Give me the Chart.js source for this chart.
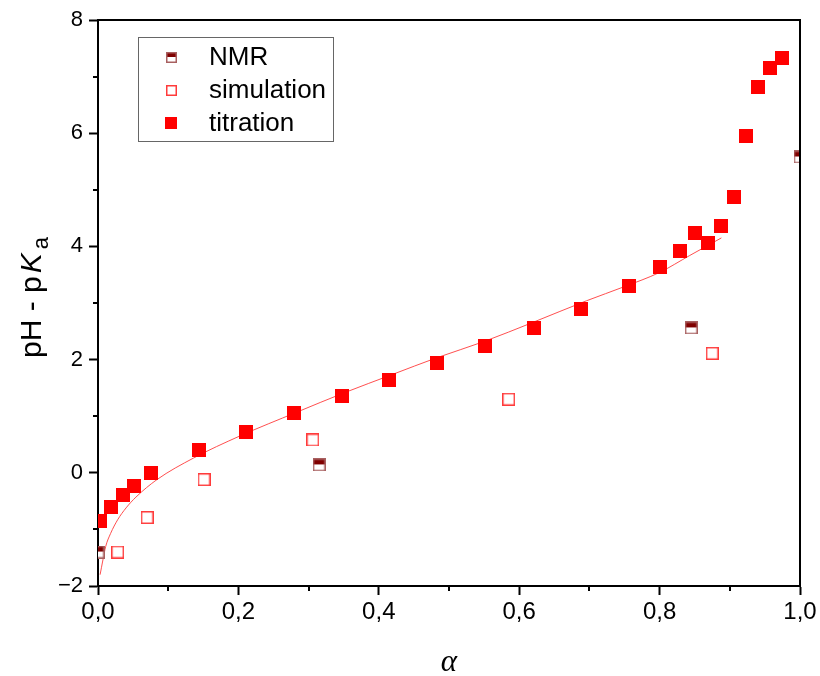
<!DOCTYPE html>
<html>
<head>
<meta charset="utf-8">
<script src="https://cdn.jsdelivr.net/npm/chart.js@4.4.1/dist/chart.umd.min.js"></script>
<style>
  html, body { margin: 0; padding: 0; background: #fff; }
  canvas { display: block; }
</style>
</head>
<body>
<canvas id="chart" width="820" height="676"></canvas>
<script>
// titration (filled squares)
const titrationAlpha = [0.003, 0.0185, 0.035, 0.051, 0.075, 0.144, 0.211, 0.279, 0.348, 0.415, 0.483, 0.551, 0.621, 0.688, 0.756, 0.80, 0.829, 0.85, 0.869, 0.887, 0.906, 0.923, 0.940, 0.957, 0.974];
const titrationY = [-0.85, -0.60, -0.39, -0.23, 0.0, 0.40, 0.72, 1.06, 1.36, 1.64, 1.94, 2.24, 2.56, 2.90, 3.30, 3.64, 3.92, 4.24, 4.06, 4.36, 4.88, 5.95, 6.82, 7.16, 7.33];

// simulation (open squares)
const simAlpha = [0.028, 0.070, 0.151, 0.306, 0.585, 0.875];
const simY = [-1.40, -0.79, -0.12, 0.58, 1.30, 2.11];

// NMR (half filled squares)
const nmrAlpha = [0.0, 0.315, 0.845, 1.0];
const nmrY = [-1.40, 0.14, 2.56, 5.58];

// fitted curve
const fitAlpha = [0.003, 0.007, 0.011, 0.018, 0.028, 0.040, 0.054, 0.084, 0.136, 0.202, 0.283, 0.35, 0.42, 0.482, 0.55, 0.62, 0.696, 0.75, 0.80, 0.843, 0.888];
const fitY = [-1.80, -1.54, -1.30, -1.07, -0.83, -0.62, -0.43, -0.12, 0.26, 0.65, 1.07, 1.41, 1.74, 2.03, 2.32, 2.66, 3.04, 3.29, 3.54, 3.84, 4.15];

const legendLabels = ['NMR', 'simulation', 'titration'];

function toPoints(xs, ys) {
    return xs.map((x, i) => ({ x: x, y: ys[i] }));
}

// marker images
function makeMarker(kind, size) {
    const c = document.createElement('canvas');
    c.width = size; c.height = size;
    const g = c.getContext('2d');
    if (kind === 'filled') {
        g.fillStyle = '#ff0000';
        g.fillRect(0, 0, size, size);
    } else if (kind === 'open') {
        g.fillStyle = '#ffffff';
        g.fillRect(0, 0, size, size);
        g.strokeStyle = '#ff3b3b';
        g.lineWidth = 1.5;
        g.strokeRect(0.75, 0.75, size - 1.5, size - 1.5);
    } else {
        g.fillStyle = '#ffffff';
        g.fillRect(0, 0, size, size);
        g.fillStyle = '#800000';
        g.fillRect(0, 0, size, Math.round(size * 0.45));
        g.strokeStyle = '#a86060';
        g.lineWidth = 1.5;
        g.strokeRect(0.75, 0.75, size - 1.5, size - 1.5);
    }
    return c;
}

const nmrMarker = makeMarker('nmr', 13);
const simMarker = makeMarker('open', 13);
const titMarker = makeMarker('filled', 14);
const legendMarkers = [makeMarker('nmr', 11), makeMarker('open', 11), makeMarker('filled', 12)];

const extras = {
    id: 'extras',
    afterDraw(chart) {
        const ctx = chart.ctx;
        const a = chart.chartArea;
        ctx.save();

        // frame top and right
        ctx.strokeStyle = '#000';
        ctx.lineWidth = 2;
        ctx.beginPath();
        ctx.moveTo(a.left, a.top);
        ctx.lineTo(a.right, a.top);
        ctx.lineTo(a.right, a.bottom);
        ctx.stroke();

        // minor ticks
        const xs = chart.scales.x, ys = chart.scales.y;
        ctx.lineWidth = 2;
        ctx.beginPath();
        xs.ticks.forEach(t => {
            if (Math.round(t.value * 10) % 2 !== 0) {
                const px = Math.round(xs.getPixelForValue(t.value));
                ctx.moveTo(px, a.bottom);
                ctx.lineTo(px, a.bottom + 5);
            }
        });
        ys.ticks.forEach(t => {
            if (Math.round(t.value) % 2 !== 0) {
                const py = Math.round(ys.getPixelForValue(t.value));
                ctx.moveTo(a.left, py);
                ctx.lineTo(a.left - 5, py);
            }
        });
        ctx.stroke();

        // legend
        ctx.strokeStyle = '#666';
        ctx.lineWidth = 1;
        ctx.strokeRect(138.5, 37.5, 195, 104);
        ctx.fillStyle = '#000';
        ctx.font = '26px "Liberation Sans", Arial, sans-serif';
        ctx.textBaseline = 'middle';
        const rows = [57, 90, 123];
        legendLabels.forEach((lab, i) => {
            const m = legendMarkers[i];
            ctx.drawImage(m, Math.round(171 - m.width / 2), Math.round(rows[i] - m.height / 2));
            ctx.fillText(lab, 209, rows[i] + 1);
        });

        // y title: pH - pKa
        ctx.translate(41, 358);
        ctx.rotate(-Math.PI / 2);
        ctx.textBaseline = 'alphabetic';
        ctx.font = '30px "Liberation Sans", Arial, sans-serif';
        let x = 0;
        ctx.fillText('pH - p', x, 0);
        x += ctx.measureText('pH - p').width + 3;
        ctx.font = 'italic 30px "Liberation Sans", Arial, sans-serif';
        ctx.fillText('K', x, 0);
        x += ctx.measureText('K').width + 4;
        ctx.font = '22px "Liberation Sans", Arial, sans-serif';
        ctx.fillText('a', x, 7);
        ctx.restore();

        // x title: alpha
        ctx.save();
        ctx.fillStyle = '#000';
        ctx.font = 'italic 31px "Liberation Serif", "Times New Roman", serif';
        ctx.textAlign = 'center';
        ctx.textBaseline = 'alphabetic';
        ctx.fillText('\u03b1', 449, 671);
        ctx.restore();
    }
};

new Chart(document.getElementById('chart'), {
    type: 'scatter',
    data: {
        datasets: [
            {
                label: 'NMR',
                data: toPoints(nmrAlpha, nmrY),
                pointStyle: nmrMarker,
                pointRadius: 7
            },
            {
                label: 'simulation',
                data: toPoints(simAlpha, simY),
                pointStyle: simMarker,
                pointRadius: 7
            },
            {
                label: 'titration',
                data: toPoints(titrationAlpha, titrationY),
                pointStyle: titMarker,
                pointRadius: 7
            },
            {
                label: 'fit',
                type: 'line',
                data: toPoints(fitAlpha, fitY),
                borderColor: 'rgba(255, 60, 60, 0.9)',
                borderWidth: 1,
                pointRadius: 0,
                fill: false,
                cubicInterpolationMode: 'monotone'
            }
        ]
    },
    options: {
        responsive: false,
        animation: false,
        layout: { padding: { top: 20, right: 20, left: 0, bottom: 0 } },
        plugins: {
            legend: { display: false },
            tooltip: { enabled: false }
        },
        scales: {
            x: {
                type: 'linear',
                min: 0,
                max: 1,
                afterFit: s => { s.height = 90; },
                border: { color: '#000', width: 2 },
                grid: {
                    drawOnChartArea: false,
                    tickLength: 9,
                    tickWidth: 2,
                    tickColor: c => (Math.round(c.tick.value * 10) % 2 === 0 ? '#000' : 'rgba(0,0,0,0)')
                },
                ticks: {
                    stepSize: 0.1,
                    autoSkip: false,
                    maxRotation: 0,
                    padding: 3,
                    color: '#000',
                    font: { family: '"Liberation Sans Narrow", "Liberation Sans", Arial, sans-serif', size: 24 },
                    callback: v => (Math.round(v * 10) % 2 === 0 ? v.toFixed(1).replace('.', ',') : '')
                }
            },
            y: {
                type: 'linear',
                min: -2,
                max: 8,
                afterFit: s => { s.width = 98; },
                border: { color: '#000', width: 2 },
                grid: {
                    drawOnChartArea: false,
                    tickLength: 9,
                    tickWidth: 2,
                    tickColor: c => (Math.round(c.tick.value) % 2 === 0 ? '#000' : 'rgba(0,0,0,0)')
                },
                ticks: {
                    stepSize: 1,
                    autoSkip: false,
                    padding: 6,
                    color: '#000',
                    font: { family: '"Liberation Sans", Arial, sans-serif', size: 22 },
                    callback: v => (Math.round(v) % 2 === 0 ? (v < 0 ? '\u2212' + Math.abs(v) : String(v)) : '')
                }
            }
        }
    },
    plugins: [extras]
});
</script>
</body>
</html>
